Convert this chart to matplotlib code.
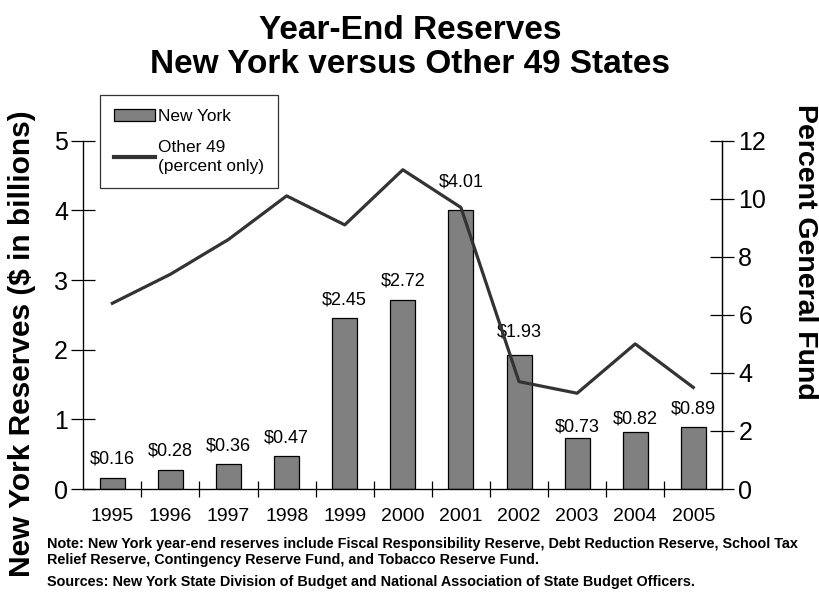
import matplotlib
matplotlib.use("Agg")
import matplotlib.pyplot as plt
from matplotlib.lines import Line2D
from matplotlib.patches import Patch
import numpy as np

plt.rcParams["font.family"] = ["Liberation Sans", "DejaVu Sans"]

years = ["1995", "1996", "1997", "1998", "1999", "2000",
         "2001", "2002", "2003", "2004", "2005"]
ny_reserves = [0.16, 0.28, 0.36, 0.47, 2.45, 2.72, 4.01, 1.93, 0.73, 0.82, 0.89]
other49_pct = [6.4, 7.4, 8.6, 10.1, 9.1, 11.0, 9.7, 3.7, 3.3, 5.0, 3.5]
bar_labels = ["$0.16", "$0.28", "$0.36", "$0.47", "$2.45", "$2.72",
              "$4.01", "$1.93", "$0.73", "$0.82", "$0.89"]
# gap between bar top and label (points), as placed in the original
label_gap = [10, 10, 9.5, 10, 10, 10, 16.5, 13, 4.5, 6, 9.5]

fig = plt.figure(figsize=(8.2, 6.05), dpi=100)
ax = fig.add_axes([0.1016, 0.1917, 0.7793, 0.5757])
x = np.arange(len(years))

ax.bar(x, ny_reserves, width=0.43, color="#808080", edgecolor="black",
       linewidth=0.9, zorder=2)
for xi, v, lab, g in zip(x, ny_reserves, bar_labels, label_gap):
    ax.annotate(lab, (xi, v), xytext=(0, g), textcoords="offset points",
                ha="center", va="baseline", fontsize=13)

ax.set_xlim(-0.5, len(years) - 0.5)
ax.set_ylim(0, 5)
ax.set_yticks(range(0, 6))
ax.set_xticks(x)
ax.set_xticklabels(years)
ax.set_xticks(np.arange(0.5, len(years) - 1, 1), minor=True)
ax.tick_params(axis="x", which="major", length=0, pad=14, labelsize=14)
ax.tick_params(axis="x", which="minor", direction="inout", length=11, width=0.9)
ax.tick_params(axis="y", direction="inout", length=17, width=0.9,
               labelsize=18, pad=2.5)
ax.spines["top"].set_visible(False)
for s in ("left", "right", "bottom"):
    ax.spines[s].set_linewidth(0.9)
ax.set_ylabel("New York Reserves ($ in billions)", fontsize=21.5,
              fontweight="bold", va="center")
ax.yaxis.set_label_coords(-0.096, 0.416)

ax2 = ax.twinx()
ax2.plot(x, other49_pct, color="#333333", linewidth=2.3, zorder=3)
ax2.set_ylim(0, 12)
ax2.set_yticks(range(0, 13, 2))
ax2.tick_params(axis="y", direction="inout", length=17, width=0.9,
                labelsize=18, pad=3)
ax2.spines["top"].set_visible(False)
ax2.spines["right"].set_linewidth(0.9)
ax2.set_ylabel("Percent General Fund", fontsize=20.5, fontweight="bold",
               rotation=270, va="center")
ax2.yaxis.set_label_coords(1.129, 0.68)

handles = [Patch(facecolor="#808080", edgecolor="black", linewidth=0.9),
           Line2D([], [], color="#333333", linewidth=3)]
leg = ax2.legend(handles, ["New York", "Other 49\n(percent only)"],
                 loc="lower left", bbox_to_anchor=(0.026, 0.864),
                 frameon=True, fancybox=False, edgecolor="black",
                 fontsize=12.4, handlelength=2.4, handletextpad=0.2,
                 borderpad=0.8, labelspacing=0.9, borderaxespad=0)
leg.get_frame().set_linewidth(0.9)
for t in leg.get_texts():
    t.set_linespacing(1.4)

fig.text(0.5, 0.950, "Year-End Reserves", ha="center", va="center",
         fontsize=24, fontweight="bold")
fig.text(0.5, 0.893, "New York versus Other 49 States", ha="center",
         va="center", fontsize=24, fontweight="bold")

fig.text(0.057, 0.088,
         "Note: New York year-end reserves include Fiscal Responsibility Reserve, "
         "Debt Reduction Reserve, School Tax\nRelief Reserve, Contingency Reserve "
         "Fund, and Tobacco Reserve Fund.",
         ha="left", va="center", fontsize=10.4, fontweight="bold",
         linespacing=1.15)
fig.text(0.057, 0.038,
         "Sources: New York State Division of Budget and National Association "
         "of State Budget Officers.",
         ha="left", va="center", fontsize=10.4, fontweight="bold")

fig.savefig("out.png", dpi=100)
